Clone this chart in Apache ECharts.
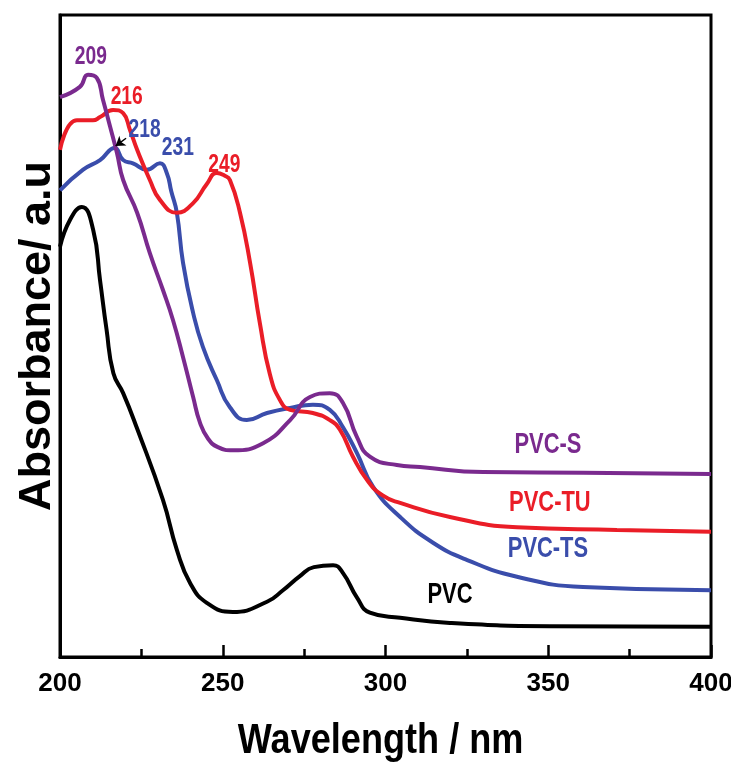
<!DOCTYPE html>
<html>
<head>
<meta charset="utf-8">
<script src="https://cdn.jsdelivr.net/npm/echarts@6/dist/echarts.min.js"></script>
<style>
  html, body { margin: 0; padding: 0; background: #fff; }
  #chart { width: 731px; height: 770px; }
</style>
</head>
<body>
<div id="chart"></div>
<script>
// UV-vis spectra, [wavelength nm, absorbance a.u.]
var pvcData = [
  [200, 63.9], [203.1, 68.1], [206.7, 70.1], [210.2, 66.5], [212.3, 58.7], [214.3, 51.0],
  [216.4, 44.2], [219.4, 41.1], [223.6, 35.7], [231.6, 24.5], [235.9, 16.7],
  [240, 11.5], [245.2, 8.4], [253.1, 7.0], [263.6, 8.6], [268.5, 10.4],
  [273.7, 12.6], [278, 14.0], [283.9, 14.3], [286.9, 13.1], [291.2, 9.3],
  [295.2, 6.9], [304.5, 6.1], [319.8, 5.3], [350.5, 4.8], [400, 4.7]
];
var pvcSData = [
  [200, 87.2], [206.1, 88.8], [208.6, 90.7], [211.3, 90.2], [213.2, 86.8],
  [215.4, 82.6], [217.5, 78.5], [219.4, 74.3], [223.7, 69.2], [227.6, 62.9],
  [231.6, 57.2], [234.7, 52.5], [237.8, 46.7], [240.9, 40.5], [243, 36.5],
  [245.5, 34.0], [248.5, 32.7], [253.1, 32.2], [262.4, 33.3], [270.7, 36.9],
  [276.8, 40.5], [282.9, 41.1], [286.9, 39.6], [291.2, 34.3], [295.2, 31.2],
  [303.5, 29.9], [310.6, 29.6], [330, 28.8], [360.7, 28.7], [400, 28.5]
];
var pvcTuData = [
  [200, 79.0], [205.2, 83.6], [210.1, 83.6], [212.3, 84.1], [216.3, 85.2],
  [219.4, 84.7], [221.5, 82.1], [223.7, 79.0], [227.6, 74.3], [230.7, 71.2],
  [235.9, 69.2], [240.9, 70.7], [245, 73.6], [248.2, 75.4], [250.5, 75.0],
  [252.2, 74.3], [255.3, 69.2], [258.4, 61.4], [261.4, 52.0], [264.5, 44.0],
  [267.6, 40.0], [270.7, 38.5], [277.7, 38.0], [282.9, 36.9], [286, 35.4],
  [290, 31.2], [294.3, 27.6], [299, 25.2], [304.5, 24.0], [319.8, 21.8],
  [340.4, 20.2], [371.1, 19.8], [400, 19.5]
];
var pvcTsData = [
  [200, 72.7], [207.1, 75.9], [212.3, 77.4], [216.8, 79.3], [219.4, 77.4],
  [222.4, 76.9], [226.7, 75.9], [230.7, 76.9], [232.8, 75.4], [234.2, 72.5],
  [235.9, 69.2], [237.8, 61.4], [240.9, 53.6], [243.9, 48.3], [248.2, 43.1],
  [252.2, 38.9], [257.4, 36.9], [263.6, 38.0], [270.7, 38.8], [277.7, 39.3],
  [282.9, 38.5], [286.9, 35.8], [291.2, 31.8], [296.2, 26.5], [304.5, 21.8],
  [314.6, 17.8], [325.1, 15.1], [340.4, 12.5], [360.7, 10.9], [400, 10.4]
];

var xTicks = [200, 250, 300, 350, 400];

// text annotations: [label, wavelength, absorbance, colour]
var peakNotes = [
  ['209', 209.5, 93.5, '#7a2a8e'],
  ['216', 220.5, 87.2, '#ea1d27'],
  ['218', 226, 82.1, '#3a4dab'],
  ['231', 236.2, 79.2, '#3a4dab'],
  ['249', 250.5, 76.6, '#ea1d27']
];
var nameNotes = [
  ['PVC-S', 349.9, 33.0, '#7a2a8e'],
  ['PVC-TU', 350.5, 24.1, '#ea1d27'],
  ['PVC-TS', 349.9, 16.8, '#3a4dab'],
  ['PVC', 319.8, 9.7, '#000000']
];
var arrow218 = [[220.3, 80.8], [217.1, 79.6]];

var bold = 'Liberation Sans, Arial, sans-serif';

function line(name, data, color) {
  return {
    name: name,
    type: 'line',
    data: data,
    smooth: 0.5,
    showSymbol: false,
    lineStyle: { color: color, width: 4 },
    z: 2
  };
}

var myChart = echarts.init(document.getElementById('chart'));
var tsSeries = line('PVC-TS', pvcTsData, '#3a4dab');
tsSeries.markLine = {
  silent: true,
  symbol: ['none', 'arrow'],
  symbolSize: 9,
  label: { show: false },
  lineStyle: { color: '#000', width: 1.5, type: 'solid' },
  data: [[{ coord: arrow218[0] }, { coord: arrow218[1] }]]
};

var option = {
  animation: false,
  backgroundColor: '#fff',
  grid: {
    left: 60, right: 20, top: 15, bottom: 113,
    outerBoundsMode: 'none',
    show: true,
    borderColor: '#000',
    borderWidth: 3
  },
  xAxis: {
    type: 'value',
    min: 200, max: 400, interval: 50,
    axisLine: { lineStyle: { color: '#000', width: 3 } },
    axisTick: { inside: true, length: 12, lineStyle: { color: '#000', width: 2.5 } },
    minorTick: { show: true, splitNumber: 2, length: 8, lineStyle: { color: '#000', width: 2.5 } },
    splitLine: { show: false },
    axisLabel: {
      margin: 14,
      fontFamily: bold, fontWeight: 'bold', fontSize: 26, color: '#000',
      customValues: xTicks
    }
  },
  yAxis: {
    type: 'value',
    min: 0, max: 100,
    name: 'Absorbance/ a.u',
    nameLocation: 'middle',
    nameGap: 0,
    nameTextStyle: { fontFamily: bold, fontWeight: 'bold', fontSize: 45, color: '#000' },
    axisLine: { lineStyle: { color: '#000', width: 3 } },
    axisTick: { show: false },
    axisLabel: { show: false },
    splitLine: { show: false }
  },
  series: [
    line('PVC', pvcData, '#000000'),
    tsSeries,
    line('PVC-TU', pvcTuData, '#ea1d27'),
    line('PVC-S', pvcSData, '#7a2a8e')
  ]
};
myChart.setOption(option);

// condensed-looking texts, anchored through the grid's own scales
function noteText(n, size, sx) {
  var p = myChart.convertToPixel({ gridIndex: 0 }, [n[1], n[2]]);
  return {
    type: 'text', x: p[0], y: p[1], scaleX: sx, silent: true, z: 10,
    style: {
      text: n[0], fill: n[3], x: 0, y: 0,
      font: 'bold ' + size + 'px ' + bold,
      align: 'center', verticalAlign: 'middle'
    }
  };
}
var graphics = peakNotes.map(function (n) { return noteText(n, 25, 0.77); })
  .concat(nameNotes.map(function (n) { return noteText(n, 30, 0.73); }));
var mid = myChart.convertToPixel({ gridIndex: 0 }, [298.5, 0]);
graphics.push({
  type: 'text', x: mid[0], y: 741, scaleX: 0.84, silent: true,
  style: {
    text: 'Wavelength / nm', fill: '#000', x: 0, y: 0,
    font: 'bold 43px ' + bold, align: 'center', verticalAlign: 'middle'
  }
});
myChart.setOption({ graphic: graphics });
</script>
</body>
</html>
